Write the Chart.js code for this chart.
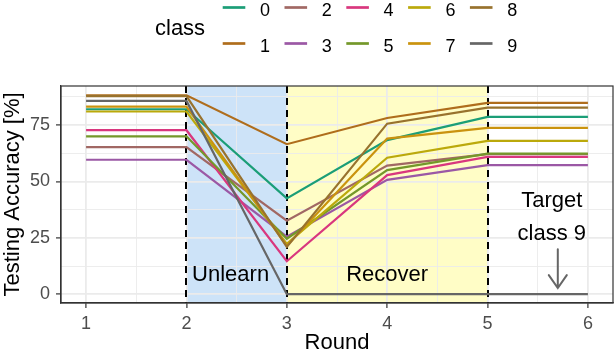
<!DOCTYPE html>
<html>
<head>
<meta charset="utf-8">
<script src="https://cdn.jsdelivr.net/npm/chart.js@4"></script>
<style>
  html, body { margin: 0; padding: 0; background: #fff; }
  canvas { display: block; }
</style>
</head>
<body>
<canvas id="accChart" width="614" height="356"></canvas>
<script>
// data
const rounds = [1, 2, 3, 4, 5, 6];
const classNames = ['0', '1', '2', '3', '4', '5', '6', '7', '8', '9'];
const acc0 = [82.0, 82.0, 42.5, 68.3, 78.6, 78.6];
const acc1 = [88.2, 88.2, 66.5, 78.1, 84.8, 84.8];
const acc2 = [65.2, 65.2, 32.6, 57.0, 62.1, 62.1];
const acc3 = [59.6, 59.6, 25.5, 50.7, 57.2, 57.2];
const acc4 = [72.7, 72.7, 14.6, 52.8, 60.9, 60.9];
const acc5 = [70.0, 70.0, 24.6, 55.0, 62.3, 62.3];
const acc6 = [81.0, 81.0, 22.3, 60.5, 68.0, 68.0];
const acc7 = [83.2, 83.2, 21.5, 69.0, 73.7, 73.7];
const acc8 = [87.8, 87.8, 21.0, 75.6, 82.7, 82.7];
const acc9 = [85.7, 85.7, 0.0, 0.0, 0.0, 0.0];
const xTickLabels = [1, 2, 3, 4, 5, 6];
const yTickLabels = [0, 25, 50, 75];
const phaseNames = ['Unlearn', 'Recover'];
const targetNote = ['Target', 'class 9'];

const allAcc = [acc0, acc1, acc2, acc3, acc4, acc5, acc6, acc7, acc8, acc9];

// Dark2 stretched to 10 classes
const palette = ['#1B9E77', '#AF6D1C', '#A16864', '#9B58A5', '#D9377E',
                 '#74982A', '#BBA90B', '#CA930E', '#98722D', '#666666'];
const ink = '#333333';
const gridCol = '#ebebeb';
const fontFam = '"Liberation Sans", Arial, Helvetica, sans-serif';

Chart.defaults.font.family = fontFam;

const xGrid = [];
for (let v = 1; v <= 6; v += 0.5) xGrid.push(v);
const yGrid = [];
for (let v = 0; v <= 87.5; v += 12.5) yGrid.push(v);

const datasets = allAcc.map((arr, i) => ({
    label: classNames[i],
    data: rounds.map((r, k) => ({ x: r, y: arr[k] })),
    borderColor: palette[i],
    backgroundColor: palette[i],
    borderWidth: 2.2,
    pointRadius: 0,
    tension: 0,
    fill: false,
    order: 9 - i
}));

const panelDecor = {
    id: 'panelDecor',
    beforeDraw(chart) {
        const { ctx, chartArea: a, scales: { x } } = chart;
        ctx.save();
        ctx.fillStyle = '#cde3f8';
        ctx.fillRect(x.getPixelForValue(2), a.top, x.getPixelForValue(3) - x.getPixelForValue(2), a.bottom - a.top);
        ctx.fillStyle = '#fffdc6';
        ctx.fillRect(x.getPixelForValue(3), a.top, x.getPixelForValue(5) - x.getPixelForValue(3), a.bottom - a.top);
        ctx.restore();
    },
    beforeDatasetsDraw(chart) {
        const { ctx, chartArea: a, scales: { x } } = chart;
        ctx.save();
        ctx.strokeStyle = '#000';
        ctx.lineWidth = 2;
        ctx.setLineDash([7, 5]);
        [2, 3, 5].forEach(v => {
            const px = Math.round(x.getPixelForValue(v));
            ctx.beginPath();
            ctx.moveTo(px, a.top);
            ctx.lineTo(px, a.bottom);
            ctx.stroke();
        });
        ctx.restore();
    },
    afterDatasetsDraw(chart) {
        const { ctx, scales: { x, y } } = chart;
        ctx.save();
        ctx.fillStyle = '#000';
        ctx.font = '22px ' + fontFam;
        ctx.textAlign = 'center';
        ctx.textBaseline = 'alphabetic';
        ctx.fillText(phaseNames[0], x.getPixelForValue(2.44), y.getPixelForValue(5.9));
        ctx.fillText(phaseNames[1], x.getPixelForValue(4.0), y.getPixelForValue(5.9));
        ctx.fillText(targetNote[0], x.getPixelForValue(5.64), y.getPixelForValue(38.6));
        ctx.fillText(targetNote[1], x.getPixelForValue(5.64), y.getPixelForValue(24.0));

        // arrow pointing at class 9
        const ax = x.getPixelForValue(5.7);
        const y0 = y.getPixelForValue(19.9);
        const y1 = y.getPixelForValue(2.7);
        ctx.strokeStyle = '#666666';
        ctx.lineWidth = 2;
        ctx.lineCap = 'round';
        ctx.beginPath();
        ctx.moveTo(ax, y0);
        ctx.lineTo(ax, y1);
        ctx.moveTo(ax - 9, y1 - 13);
        ctx.lineTo(ax, y1);
        ctx.lineTo(ax + 9, y1 - 13);
        ctx.stroke();
        ctx.restore();
    },
    afterDraw(chart) {
        const { ctx, chartArea: a } = chart;
        ctx.save();
        ctx.strokeStyle = ink;
        ctx.lineWidth = 1.2;
        ctx.strokeRect(a.left, a.top, a.right - a.left, a.bottom - a.top);

        // legend, two rows of five
        ctx.fillStyle = '#000';
        ctx.font = '22px ' + fontFam;
        ctx.textAlign = 'left';
        ctx.textBaseline = 'alphabetic';
        ctx.fillText('class', 155, 35);
        ctx.font = '18px ' + fontFam;
        classNames.forEach((name, i) => {
            const col = Math.floor(i / 2);
            const row = i % 2;
            const x0 = 222.7 + 61.8 * col;
            const ly = 7.5 + 36 * row;
            ctx.strokeStyle = palette[i];
            ctx.lineWidth = 2.7;
            ctx.beginPath();
            ctx.moveTo(x0, ly);
            ctx.lineTo(x0 + 22.6, ly);
            ctx.stroke();
            ctx.fillStyle = '#000';
            ctx.fillText(name, x0 + 37.3, 15.6 + 36 * row);
        });
        ctx.restore();
    }
};

function near(v, list) {
    return list.some(t => Math.abs(t - v) < 1e-6);
}

const ctx = document.getElementById('accChart').getContext('2d');
const accChart = new Chart(ctx, {
    type: 'line',
    data: { datasets: datasets },
    options: {
        responsive: false,
        animation: false,
        layout: { padding: { top: 86, right: 1, left: 0, bottom: 0 } },
        plugins: {
            legend: { display: false },
            tooltip: { enabled: false }
        },
        scales: {
            x: {
                type: 'linear',
                min: 0.75,
                max: 6.25,
                afterBuildTicks: s => { s.ticks = xGrid.map(v => ({ value: v })); },
                afterFit: s => { s.height = 53; },
                ticks: {
                    autoSkip: false,
                    maxRotation: 0,
                    color: '#4d4d4d',
                    font: { size: 18 },
                    padding: 5,
                    callback: v => near(v, xTickLabels) ? String(v) : ''
                },
                grid: {
                    color: gridCol,
                    lineWidth: c => (c.tick && near(c.tick.value, xTickLabels)) ? 1.8 : 0.9,
                    tickLength: 5,
                    tickWidth: 1.2,
                    tickColor: c => (c.tick && near(c.tick.value, xTickLabels)) ? ink : 'rgba(0,0,0,0)'
                },
                border: { display: true, color: ink, width: 1.2 },
                title: {
                    display: true,
                    text: 'Round',
                    color: '#000',
                    font: { size: 22 },
                    padding: { top: 0, bottom: 0 }
                }
            },
            y: {
                type: 'linear',
                min: -3.9,
                max: 92.3,
                afterBuildTicks: s => { s.ticks = yGrid.map(v => ({ value: v })); },
                afterFit: s => { s.width = 61; },
                ticks: {
                    autoSkip: false,
                    color: '#4d4d4d',
                    font: { size: 18 },
                    padding: 6,
                    callback: v => near(v, yTickLabels) ? String(v) : ''
                },
                grid: {
                    color: gridCol,
                    lineWidth: c => (c.tick && near(c.tick.value, yTickLabels)) ? 1.8 : 0.9,
                    tickLength: 5,
                    tickWidth: 1.2,
                    tickColor: c => (c.tick && near(c.tick.value, yTickLabels)) ? ink : 'rgba(0,0,0,0)'
                },
                border: { display: true, color: ink, width: 1.2 },
                title: {
                    display: true,
                    text: 'Testing Accuracy [%]',
                    color: '#000',
                    font: { size: 22 },
                    padding: 0
                }
            }
        }
    },
    plugins: [panelDecor]
});
</script>
</body>
</html>
